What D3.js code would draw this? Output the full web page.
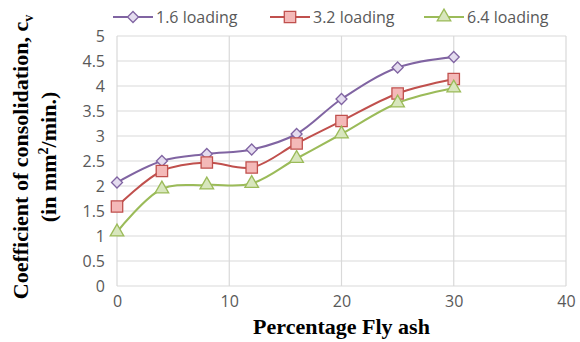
<!DOCTYPE html>
<html>
<head>
<meta charset="utf-8">
<script src="https://cdn.jsdelivr.net/npm/d3@7"></script>
<style>
  body { margin: 0; background: #fff; }
  .tick text { font-family: "Open Sans", sans-serif; font-size: 16px; fill: #595959; }
</style>
</head>
<body>
<div id="chart"></div>
<script>
// percentage of fly ash
const flyAsh = [0, 4, 8, 12, 16, 20, 25, 30];
// coefficient of consolidation for each loading
const load16 = [2.07, 2.5, 2.64, 2.73, 3.04, 3.74, 4.37, 4.58];
const load32 = [1.59, 2.3, 2.47, 2.37, 2.85, 3.3, 3.85, 4.14];
const load64 = [1.08, 1.94, 2.02, 2.05, 2.55, 3.04, 3.66, 3.96];
const seriesNames = ["1.6 loading", "3.2 loading", "6.4 loading"];
const xTicks = [0, 10, 20, 30, 40];
const yTicks = [0, 0.5, 1, 1.5, 2, 2.5, 3, 3.5, 4, 4.5, 5];

const width = 580, height = 342;
const margin = { top: 36, right: 14, bottom: 56, left: 117 };
const w = width - margin.left - margin.right;
const h = height - margin.top - margin.bottom;

const svg = d3.select("#chart").append("svg")
    .attr("width", width)
    .attr("height", height);

const g = svg.append("g")
    .attr("transform", `translate(${margin.left},${margin.top})`);

const x = d3.scaleLinear().domain([0, 40]).range([0, w]);
const y = d3.scaleLinear().domain([0, 5]).range([h, 0]);

// gridlines
g.append("g").selectAll("line.hg")
    .data(yTicks).enter().append("line")
    .attr("x1", 0).attr("x2", w)
    .attr("y1", d => y(d)).attr("y2", d => y(d))
    .attr("stroke", "#d9d9d9").attr("stroke-width", 1.2);
g.append("g").selectAll("line.vg")
    .data(xTicks).enter().append("line")
    .attr("y1", 0).attr("y2", h)
    .attr("x1", d => x(d)).attr("x2", d => x(d))
    .attr("stroke", "#d9d9d9").attr("stroke-width", 1.2);

// axes (labels only)
const xAxis = g.append("g")
    .attr("transform", `translate(0,${h})`)
    .call(d3.axisBottom(x).tickValues(xTicks).tickSize(0).tickPadding(10));
xAxis.select(".domain").remove();

const yAxis = g.append("g")
    .call(d3.axisLeft(y).tickValues(yTicks).tickSize(0).tickPadding(12).tickFormat(d3.format("")));
yAxis.select(".domain").remove();

// Excel-like diamond (square rotated 45deg)
const diamond = {
    draw(ctx, size) {
        const r = Math.sqrt(size / 2);
        ctx.moveTo(0, -r); ctx.lineTo(r, 0); ctx.lineTo(0, r); ctx.lineTo(-r, 0); ctx.closePath();
    }
};

const series = [
    { name: seriesNames[0], values: load16, color: "#8064a2", fill: "#e4dcef", symbol: diamond, size: 60 },
    { name: seriesNames[1], values: load32, color: "#c0504d", fill: "#f4b9b8", symbol: d3.symbolSquare, size: 130 },
    { name: seriesNames[2], values: load64, color: "#9bbb59", fill: "#d8e6bd", symbol: d3.symbolTriangle, size: 80 }
];

const line = d3.line()
    .curve(d3.curveCatmullRom)
    .x((d, i) => x(flyAsh[i]))
    .y(d => y(d));

series.forEach(s => {
    g.append("path")
        .attr("d", line(s.values))
        .attr("fill", "none")
        .attr("stroke", s.color)
        .attr("stroke-width", 2);
});

series.forEach(s => {
    const sym = d3.symbol().type(s.symbol).size(s.size);
    g.selectAll(null)
        .data(s.values).enter().append("path")
        .attr("d", sym)
        .attr("transform", (d, i) => `translate(${x(flyAsh[i])},${y(d)})`)
        .attr("fill", s.fill)
        .attr("stroke", s.color)
        .attr("stroke-width", 1.3);
});

// legend
const legendX = [113, 270, 424];
series.forEach((s, i) => {
    const lg = svg.append("g").attr("transform", `translate(${legendX[i]},17)`);
    lg.append("line").attr("x1", 0).attr("x2", 40).attr("y1", 0).attr("y2", 0)
        .attr("stroke", s.color).attr("stroke-width", 2);
    lg.append("path").attr("d", d3.symbol().type(s.symbol).size(s.size)())
        .attr("transform", "translate(20,0)")
        .attr("fill", s.fill).attr("stroke", s.color).attr("stroke-width", 1.3);
    lg.append("text").attr("x", 43).attr("y", 6)
        .style("font-family", "'Open Sans', sans-serif")
        .style("font-size", "16px")
        .style("fill", "#595959")
        .text(s.name);
});

// axis titles
svg.append("text")
    .attr("x", margin.left + x(20)).attr("y", 334)
    .attr("text-anchor", "middle")
    .style("font-family", "'Liberation Serif', 'Times New Roman', serif")
    .style("font-size", "22px")
    .style("font-weight", "bold")
    .text("Percentage Fly ash");

const yTitle = svg.append("text")
    .attr("transform", "translate(28,157) rotate(-90)")
    .attr("text-anchor", "middle")
    .style("font-family", "'Liberation Serif', 'Times New Roman', serif")
    .style("font-size", "22px")
    .style("font-weight", "bold");
yTitle.append("tspan").text("Coefficient of consolidation, c");
yTitle.append("tspan").attr("dy", 5).style("font-size", "14px").text("v");

const yTitle2 = svg.append("text")
    .attr("transform", "translate(56,157) rotate(-90)")
    .attr("text-anchor", "middle")
    .style("font-family", "'Liberation Serif', 'Times New Roman', serif")
    .style("font-size", "22px")
    .style("font-weight", "bold");
yTitle2.append("tspan").text("(in mm");
yTitle2.append("tspan").attr("dy", -8).style("font-size", "14px").text("2");
yTitle2.append("tspan").attr("dy", 8).text("/min.)");
</script>
</body>
</html>
